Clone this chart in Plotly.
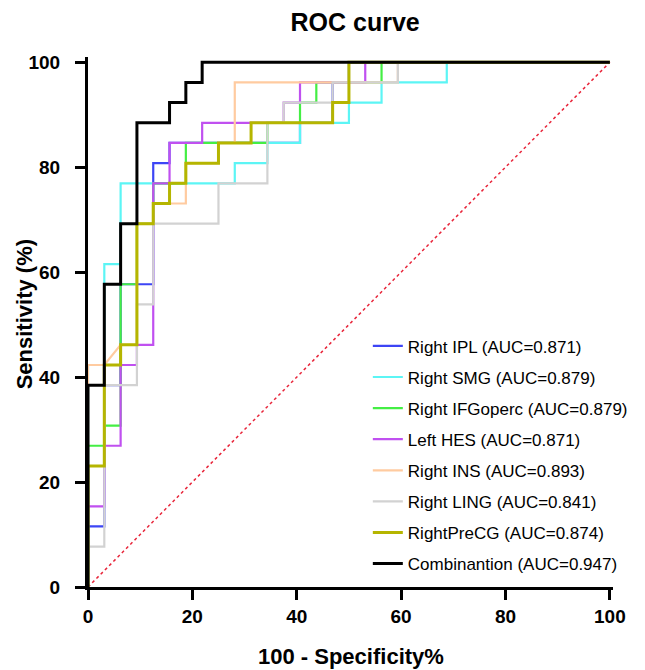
import plotly.graph_objects as go

# ROC points (100 - specificity %, sensitivity %)
ipl_x = [0, 0, 3.125, 3.125, 6.25, 6.25, 12.5, 12.5, 15.625, 15.625, 40.625, 40.625, 46.875, 46.875, 50, 50, 100]
ipl_y = [0, 11.54, 11.54, 38.46, 38.46, 57.69, 57.69, 80.77, 80.77, 84.62, 84.62, 88.46, 88.46, 96.15, 96.15, 100, 100]

smg_x = [0, 0, 3.125, 3.125, 6.25, 6.25, 28.125, 28.125, 34.375, 34.375, 40.625, 40.625, 50, 50, 56.25, 56.25, 68.75, 68.75, 100]
smg_y = [0, 42.31, 42.31, 61.54, 61.54, 76.92, 76.92, 80.77, 80.77, 84.62, 84.62, 88.46, 88.46, 92.31, 92.31, 96.15, 96.15, 100, 100]

ifg_x = [0, 0, 3.125, 3.125, 6.25, 6.25, 9.375, 9.375, 12.5, 12.5, 18.75, 18.75, 34.375, 34.375, 40.625, 40.625, 43.75, 43.75, 56.25, 56.25, 100]
ifg_y = [0, 26.92, 26.92, 30.77, 30.77, 57.69, 57.69, 69.23, 69.23, 76.92, 76.92, 84.62, 84.62, 88.46, 88.46, 92.31, 92.31, 96.15, 96.15, 100, 100]

hes_x = [0, 0, 3.125, 3.125, 6.25, 6.25, 9.375, 9.375, 12.5, 12.5, 15.625, 15.625, 21.875, 21.875, 37.5, 37.5, 40.625, 40.625, 53.125, 53.125, 100]
hes_y = [0, 15.38, 15.38, 26.92, 26.92, 42.31, 42.31, 46.15, 46.15, 76.92, 76.92, 84.62, 84.62, 88.46, 88.46, 92.31, 92.31, 96.15, 96.15, 100, 100]

ins_x = [0, 0, 3.125, 6.25, 9.375, 9.375, 12.5, 12.5, 18.75, 18.75, 25, 25, 28.125, 28.125, 59.375, 59.375, 100]
ins_y = [0, 42.31, 42.31, 46.15, 46.15, 69.23, 69.23, 73.08, 73.08, 80.77, 80.77, 84.62, 84.62, 96.15, 96.15, 100, 100]

ling_x = [0, 0, 3.125, 3.125, 9.375, 9.375, 12.5, 12.5, 25, 25, 34.375, 34.375, 37.5, 37.5, 46.875, 46.875, 59.375, 59.375, 100]
ling_y = [0, 7.69, 7.69, 38.46, 38.46, 53.85, 53.85, 69.23, 69.23, 76.92, 76.92, 88.46, 88.46, 92.31, 92.31, 96.15, 96.15, 100, 100]

precg_x = [0, 0, 3.125, 3.125, 6.25, 6.25, 9.375, 9.375, 12.5, 12.5, 15.625, 15.625, 18.75, 18.75, 25, 25, 31.25, 31.25, 46.875, 46.875, 50, 50, 100]
precg_y = [0, 23.08, 23.08, 42.31, 42.31, 46.15, 46.15, 69.23, 69.23, 73.08, 73.08, 76.92, 76.92, 80.77, 80.77, 84.62, 84.62, 88.46, 88.46, 92.31, 92.31, 100, 100]

comb_x = [0, 0, 3.125, 3.125, 6.25, 6.25, 9.375, 9.375, 15.625, 15.625, 18.75, 18.75, 21.875, 21.875, 100]
comb_y = [0, 38.46, 38.46, 57.69, 57.69, 69.23, 69.23, 88.46, 88.46, 92.31, 92.31, 96.15, 96.15, 100, 100]

names = ["Right IPL (AUC=0.871)", "Right SMG (AUC=0.879)", "Right IFGoperc (AUC=0.879)",
         "Left HES (AUC=0.871)", "Right INS (AUC=0.893)", "Right LING (AUC=0.841)",
         "RightPreCG (AUC=0.874)", "Combinantion (AUC=0.947)"]
xs = [ipl_x, smg_x, ifg_x, hes_x, ins_x, ling_x, precg_x, comb_x]
ys = [ipl_y, smg_y, ifg_y, hes_y, ins_y, ling_y, precg_y, comb_y]
colors = ["#3D45F5", "#5CF5F5", "#44EE44", "#C050F0", "#FFCBA0", "#D2D2D2", "#B5B500", "#000000"]
widths = [2.2, 2.2, 2.2, 2.2, 2.2, 2.2, 3, 3]

ref_x = [0, 100]
ref_y = [0, 100]

fig = go.Figure()

fig.add_trace(go.Scatter(x=ref_x, y=ref_y, mode="lines", showlegend=False,
                         line=dict(color="#E8253A", width=1.5, dash="dot"), hoverinfo="skip"))

for i in range(len(names)):
    fig.add_trace(go.Scatter(x=xs[i], y=ys[i], mode="lines", name=names[i],
                             legendgroup=str(i),
                             line=dict(color=colors[i], width=widths[i])))

axis_font = dict(family="Liberation Sans, Arial", size=19, color="black", weight="bold")

fig.update_xaxes(range=[0, 100.6], tickvals=[0, 20, 40, 60, 80, 100],
                 showgrid=False, zeroline=False, showline=True, linewidth=3, linecolor="black",
                 ticks="outside", ticklen=10, tickwidth=3, tickcolor="black",
                 tickfont=axis_font, ticklabelstandoff=0)
fig.update_yaxes(range=[0, 101], tickvals=[0, 20, 40, 60, 80, 100],
                 showgrid=False, zeroline=False, showline=True, linewidth=3, linecolor="black",
                 ticks="outside", ticklen=10, tickwidth=3, tickcolor="black",
                 tickfont=axis_font, ticklabelstandoff=11)

# the page adds an 8px body margin, so the figure is 8px smaller than the window
fig.update_layout(
    width=637, height=662,
    margin=dict(l=80, r=28, t=49, b=83),
    plot_bgcolor="white", paper_bgcolor="white",
    title=dict(text="<b>ROC curve</b>", x=0.545, y=0.992, xanchor="center", yanchor="top",
               pad=dict(t=0, b=0),
               font=dict(family="Liberation Sans, Arial", size=25, color="black")),
    legend=dict(x=0.533, y=0.488, xanchor="left", yanchor="top", tracegroupgap=6,
                bgcolor="rgba(0,0,0,0)",
                font=dict(family="Liberation Sans, Arial", size=17, color="black")),
    annotations=[
        dict(text="<b>100 - Specificity%</b>", xref="paper", yref="paper", x=0.5, y=-0.132,
             xanchor="center", yanchor="middle", showarrow=False,
             font=dict(family="Liberation Sans, Arial", size=22, color="black")),
        dict(text="<b>Sensitivity (%)</b>", xref="paper", yref="paper", x=-0.149, y=0.515,
             xanchor="left", yanchor="middle", showarrow=False, textangle=-90,
             font=dict(family="Liberation Sans, Arial", size=22, color="black")),
    ],
)

fig.write_html("out.html")
